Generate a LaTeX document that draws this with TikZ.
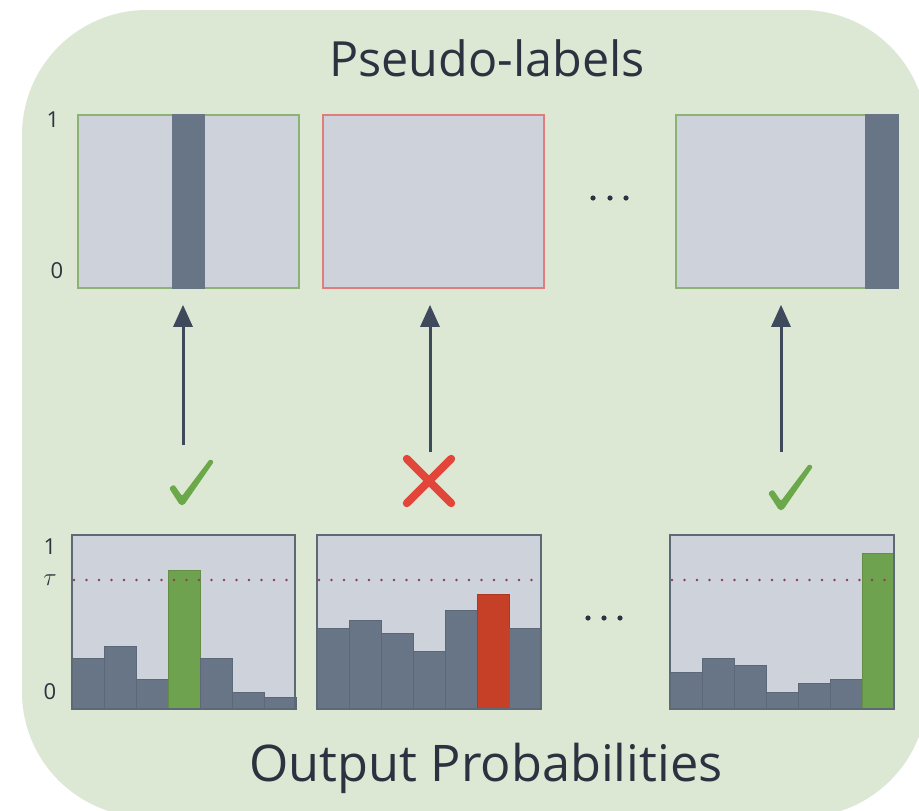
\documentclass[tikz,border=0pt]{standalone}
\usepackage{fontspec}
\setmainfont{Open Sans}
\usetikzlibrary{arrows.meta}
\definecolor{bgreen}{HTML}{DDE8D4}
\definecolor{panelc}{HTML}{CDD2DB}
\definecolor{barc}{HTML}{687587}
\definecolor{okbar}{HTML}{6FA24E}
\definecolor{badbar}{HTML}{C63F27}
\definecolor{okedge}{HTML}{8DB276}
\definecolor{badedge}{HTML}{E07C7C}
\definecolor{frame}{HTML}{5E6977}
\definecolor{taucol}{HTML}{8E3F52}
\definecolor{ink}{HTML}{2A333F}
\definecolor{arrowc}{HTML}{3E4A5C}
\definecolor{okmark}{HTML}{6BA84A}
\definecolor{badmark}{HTML}{E2453A}
\newcommand\histo[2]{%
  \foreach \t/\c [count=\i from 0] in {#2}
    \filldraw[fill=\c, draw=\c!88!black, line width=0.8pt]
      ({#1+\i*32},709) rectangle ({#1+(\i+1)*32},\t);}
% tapered tick drawn round the centre of a named node
\newcommand\tick[1]{%
  \fill[okmark, rounded corners=1.5pt, shift={(#1.center)}]
    (-22,6) -- (-17,2.5) -- (-9,14) -- (19,-23) -- (23,-20.5) -- (-7,23) -- (-11,23) -- cycle;}
\begin{document}
\begin{tikzpicture}[x=1pt,y=-1pt,
  toppanel/.style={draw, fill=panelc, line width=1.6pt, minimum width=221pt, minimum height=173pt, inner sep=0pt},
  botpanel/.style={fill=panelc, minimum width=223pt, minimum height=174pt, inner sep=0pt},
  frameline/.style={draw=frame, line width=2pt},
  tauline/.style={draw=taucol, line width=2.8pt, line cap=round, dash pattern=on 0pt off 12.5pt},
  flow/.style={draw=arrowc, line width=3pt, -{Triangle[width=19pt,length=22pt]}, shorten >=16pt},
  axis/.style={text=ink, font=\fontsize{22}{22}\selectfont},
  title/.style={text=ink, font=\fontsize{50}{50}\selectfont},
  markbox/.style={minimum width=46pt, minimum height=46pt, inner sep=0pt},
  dotc/.style={fill=ink, radius=2.6pt}]
\useasboundingbox (0,0) rectangle (919,811);
\fill[white] (0,0) rectangle (919,811);
\begin{scope}
  \clip (0,0) rectangle (919,811);
  \fill[bgreen, rounded corners=125pt] (22,10) rectangle (927,817);
\end{scope}

% headings
\node[title, font=\fontsize{48.5}{48.5}\selectfont] (ttop) at (487,58) {Pseudo-labels};
\node[title, font=\fontsize{50.5}{50.5}\selectfont] (tbot) at (486,768) {Output Probabilities};

% pseudo-label panels
\node[toppanel, draw=okedge] (top1) at (188.5,201.5) {};
\fill[barc] (172,114) rectangle (205,289);
\node[toppanel, draw=badedge] (top2) at (433.5,201.5) {};
\node[toppanel, draw=okedge] (top3) at (786.5,201.5) {};
\fill[barc] (865,114) rectangle (898.5,289);
\node[axis] (y1t) at (53,120) {1};
\node[axis] (y0t) at (57,271) {0};
\fill[dotc] (593,198) circle[] (610,198) circle[] (626,198) circle[];

% output probability panels
\node[botpanel] (bot1) at (183.5,622) {};
\node[botpanel] (bot2) at (429,622) {};
\node[botpanel] (bot3) at (782,622) {};
\histo{72}{658/barc,646/barc,679/barc,570/okbar,658/barc,692/barc,697/barc}
\histo{317}{628/barc,620/barc,633/barc,651/barc,610/barc,594/badbar,628/barc}
\histo{670}{672/barc,658/barc,665/barc,692/barc,683/barc,679/barc,553/okbar}
\draw[tauline] (74,580) -- (294,580);
\draw[tauline] (319,580) -- (540,580);
\draw[tauline] (672,580) -- (893,580);
\draw[frameline] (bot1.north west) rectangle (bot1.south east);
\draw[frameline] (bot2.north west) rectangle (bot2.south east);
\draw[frameline] (bot3.north west) rectangle (bot3.south east);
\node[axis] (y1b) at (50,547) {1};
\node[axis, font=\fontsize{24}{24}\selectfont] (yt) at (50,580) {$\tau$};
\node[axis] (y0b) at (50,692) {0};
\fill[dotc] (588,618) circle[] (604,618) circle[] (620,618) circle[];

% acceptance marks
\node[markbox] (chk1) at (191,482) {};
\tick{chk1}
\node[markbox, minimum width=44pt, minimum height=44pt] (xm) at (429,481) {};
\draw[badmark, line width=8pt, line cap=round]
  (xm.north west) -- (xm.south east) (xm.north east) -- (xm.south west);
\node[markbox] (chk3) at (790,487) {};
\tick{chk3}

% arrows to the pseudo-labels
\coordinate (t1) at (183,445);
\coordinate (t2) at (430,452);
\coordinate (t3) at (781,452);
\draw[flow] (t1) -- (t1 |- top1.south);
\draw[flow] (t2) -- (t2 |- top2.south);
\draw[flow] (t3) -- (t3 |- top3.south);
\end{tikzpicture}
\end{document}
